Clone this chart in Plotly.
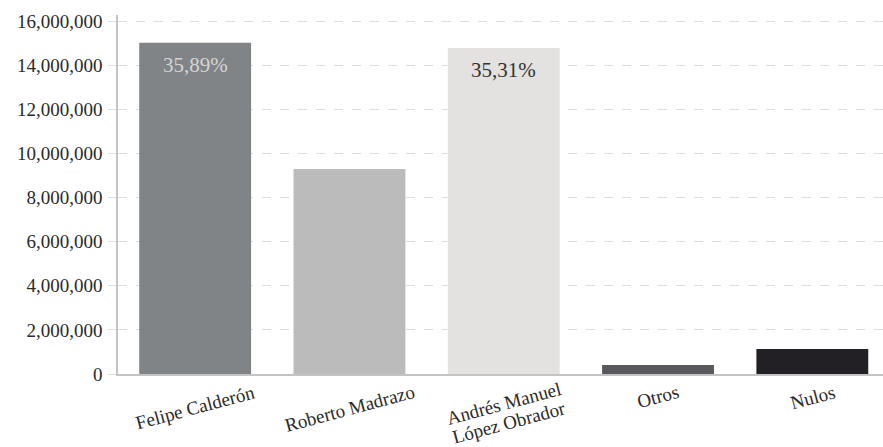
import math
import plotly.graph_objects as go

categories = ["Felipe Calderón", "Roberto Madrazo", "Andrés Manuel<br>López Obrador", "Otros", "Nulos"]
votes = [15020000, 9300000, 14780000, 410000, 1130000]
bar_colors = ["#818486", "#bbbbbb", "#e3e2e0", "#59585c", "#222024"]
pct_labels = ["35,89%", "", "35,31%", "", ""]
pct_colors = ["#d4d4d4", "#333333", "#333333", "#333333", "#333333"]
y_ticks = [0, 2000000, 4000000, 6000000, 8000000, 10000000, 12000000, 14000000, 16000000]

FONT = "Liberation Serif, Times New Roman, serif"
ANGLE = -15
LINE_H = 20
xs = list(range(len(categories)))

fig = go.Figure()
fig.add_trace(go.Bar(
    x=xs, y=votes, marker=dict(color=bar_colors, line=dict(width=0)),
    width=0.725, hoverinfo="skip",
))

annotations = []
for i, (v, t, c) in enumerate(zip(votes, pct_labels, pct_colors)):
    if t:
        annotations.append(dict(x=i, y=v, xref="x", yref="y", text=t, showarrow=False,
                                yanchor="middle", yshift=-22,
                                font=dict(family=FONT, size=21, color=c)))
s = math.sin(math.radians(-ANGLE))
co = math.cos(math.radians(-ANGLE))
for i, cat in enumerate(categories):
    lines = cat.split("<br>")
    base = -6 if len(lines) == 1 else -3
    for k, line in enumerate(lines):
        annotations.append(dict(x=i, y=0, xref="x", yref="y", text=line, showarrow=False,
                                yanchor="top", xanchor="center", borderpad=0,
                                yshift=base - k * LINE_H * co, xshift=k * LINE_H * s,
                                textangle=ANGLE,
                                font=dict(family=FONT, size=19, color="#2a2a2a")))

fig.update_layout(
    width=883, height=447,
    margin=dict(l=118, r=0, t=15, b=73, autoexpand=False),
    paper_bgcolor="white", plot_bgcolor="white",
    showlegend=False,
    annotations=annotations,
    xaxis=dict(range=[-0.5, 4.458], showticklabels=False, showgrid=False, zeroline=False,
               showline=True, linecolor="#c4c4c4", linewidth=1.5, ticks="", automargin=False),
    yaxis=dict(range=[0, 16280000], tickvals=y_ticks, tickformat=",", showgrid=True,
               gridcolor="#dcdcdc", griddash="dash", gridwidth=1, zeroline=False,
               showline=True, linecolor="#c4c4c4", linewidth=1.5, automargin=False,
               ticks="outside", ticklen=8, tickcolor="#dcdcdc", tickwidth=1,
               ticklabelstandoff=2,
               tickfont=dict(family=FONT, size=19, color="#2a2a2a")),
)

fig.write_html("out.html", config={"displayModeBar": False},
               post_script="document.body.style.margin='0';document.body.style.padding='0';")
